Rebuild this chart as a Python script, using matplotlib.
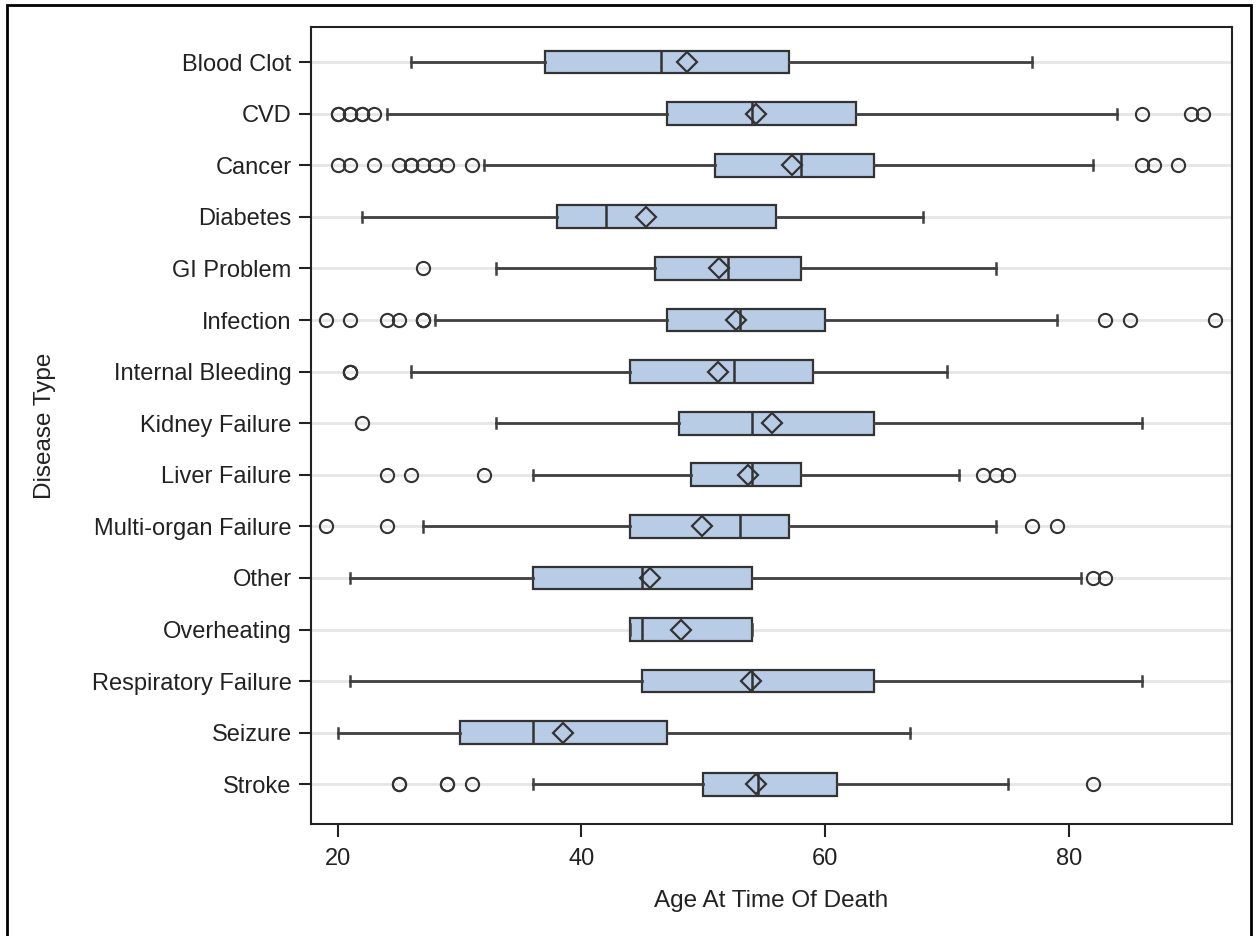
import matplotlib.pyplot as plt
from matplotlib.patches import Rectangle

# Kategorien von oben nach unten
diseases = [
    "Blood Clot", "CVD", "Cancer", "Diabetes", "GI Problem", "Infection",
    "Internal Bleeding", "Kidney Failure", "Liver Failure",
    "Multi-organ Failure", "Other", "Overheating", "Respiratory Failure",
    "Seizure", "Stroke",
]

# Fünf-Punkte-Zusammenfassung + Mittelwert
whisker_low = [26, 24, 32, 22, 33, 28, 26, 33, 36, 27, 21, 44, 21, 20, 36]
q1 = [37, 47, 51, 38, 46, 47, 44, 48, 49, 44, 36, 44, 45, 30, 50]
median = [46.5, 54, 58, 42, 52, 53, 52.5, 54, 54, 53, 45, 45, 54, 36, 54.5]
q3 = [57, 62.5, 64, 56, 58, 60, 59, 64, 58, 57, 54, 54, 64, 47, 61]
whisker_high = [77, 84, 82, 68, 74, 79, 70, 86, 71, 74, 81, 54, 86, 67, 75]
mean = [48.7, 54.3, 57.3, 45.3, 51.3, 52.7, 51.2, 55.6, 53.7, 49.9, 45.6,
        48.2, 53.9, 38.5, 54.3]

outliers = [
    [],
    [20, 20, 21, 21, 22, 22, 23, 86, 90, 91],
    [20, 21, 23, 25, 26, 26, 27, 28, 29, 31, 86, 87, 89],
    [],
    [27],
    [19, 21, 24, 25, 27, 27, 27, 83, 85, 92],
    [21, 21, 21],
    [22],
    [24, 26, 32, 73, 74, 75],
    [19, 24, 77, 79],
    [82, 83],
    [],
    [],
    [],
    [25, 25, 29, 29, 31, 82],
]

x_ticks = [20, 40, 60, 80]

W, H = 1257, 936
fig = plt.figure(figsize=(W / 100, H / 100), dpi=100)
plt.rcParams["font.family"] = ["Liberation Sans", "DejaVu Sans"]

ax = fig.add_axes([311 / W, 1 - 824 / H, (1232 - 311) / W, (824 - 27) / H])

stats = []
for i, name in enumerate(diseases):
    stats.append({
        "label": name,
        "whislo": whisker_low[i],
        "q1": q1[i],
        "med": median[i],
        "q3": q3[i],
        "whishi": whisker_high[i],
        "mean": mean[i],
        "fliers": outliers[i],
    })

edge = "#333333"
positions = list(range(len(diseases)))

# hellgraue Linien pro Kategorie
for p in positions:
    ax.axhline(p, color="#e6e6e6", lw=2, zorder=0.5)

ax.bxp(
    stats,
    positions=positions,
    orientation="horizontal",
    widths=0.44,
    capwidths=0.2,
    patch_artist=True,
    showmeans=True,
    boxprops=dict(facecolor="#b8cce6", edgecolor=edge, linewidth=1.6),
    medianprops=dict(color=edge, linewidth=1.8),
    whiskerprops=dict(color="#404040", linewidth=2.0),
    capprops=dict(color="#404040", linewidth=1.8),
    meanprops=dict(marker="D", markersize=10, markerfacecolor="none",
                   markeredgecolor=edge, markeredgewidth=1.6),
    flierprops=dict(marker="o", markersize=9.5, markerfacecolor="none",
                    markeredgecolor="#333333", markeredgewidth=1.5),
    zorder=2,
)

ax.set_xlim(17.8, 93.4)
ax.set_ylim(14.77, -0.68)
ax.set_yticks(positions)
ax.set_yticklabels(diseases)
ax.set_xticks(x_ticks)
ax.set_xticklabels([str(t) for t in x_ticks])

ax.tick_params(axis="both", labelsize=17, colors="#222222", length=9,
               width=1.5)
ax.tick_params(axis="y", pad=5)
ax.tick_params(axis="x", pad=8)
for s in ax.spines.values():
    s.set_color("#222222")
    s.set_linewidth(1.5)

ax.set_xlabel("Age At Time Of Death", fontsize=17.5, color="#222222",
              labelpad=15)
ax.set_ylabel("Disease Type", fontsize=17.5, color="#222222", labelpad=26)

# Rahmen um die ganze Grafik
fig.patches.append(Rectangle((7 / W, -0.02), (1251 - 7) / W, 1.02 - 5 / H,
                             transform=fig.transFigure, fill=False,
                             edgecolor="black", linewidth=2))

fig.savefig("out.png", dpi=100)
